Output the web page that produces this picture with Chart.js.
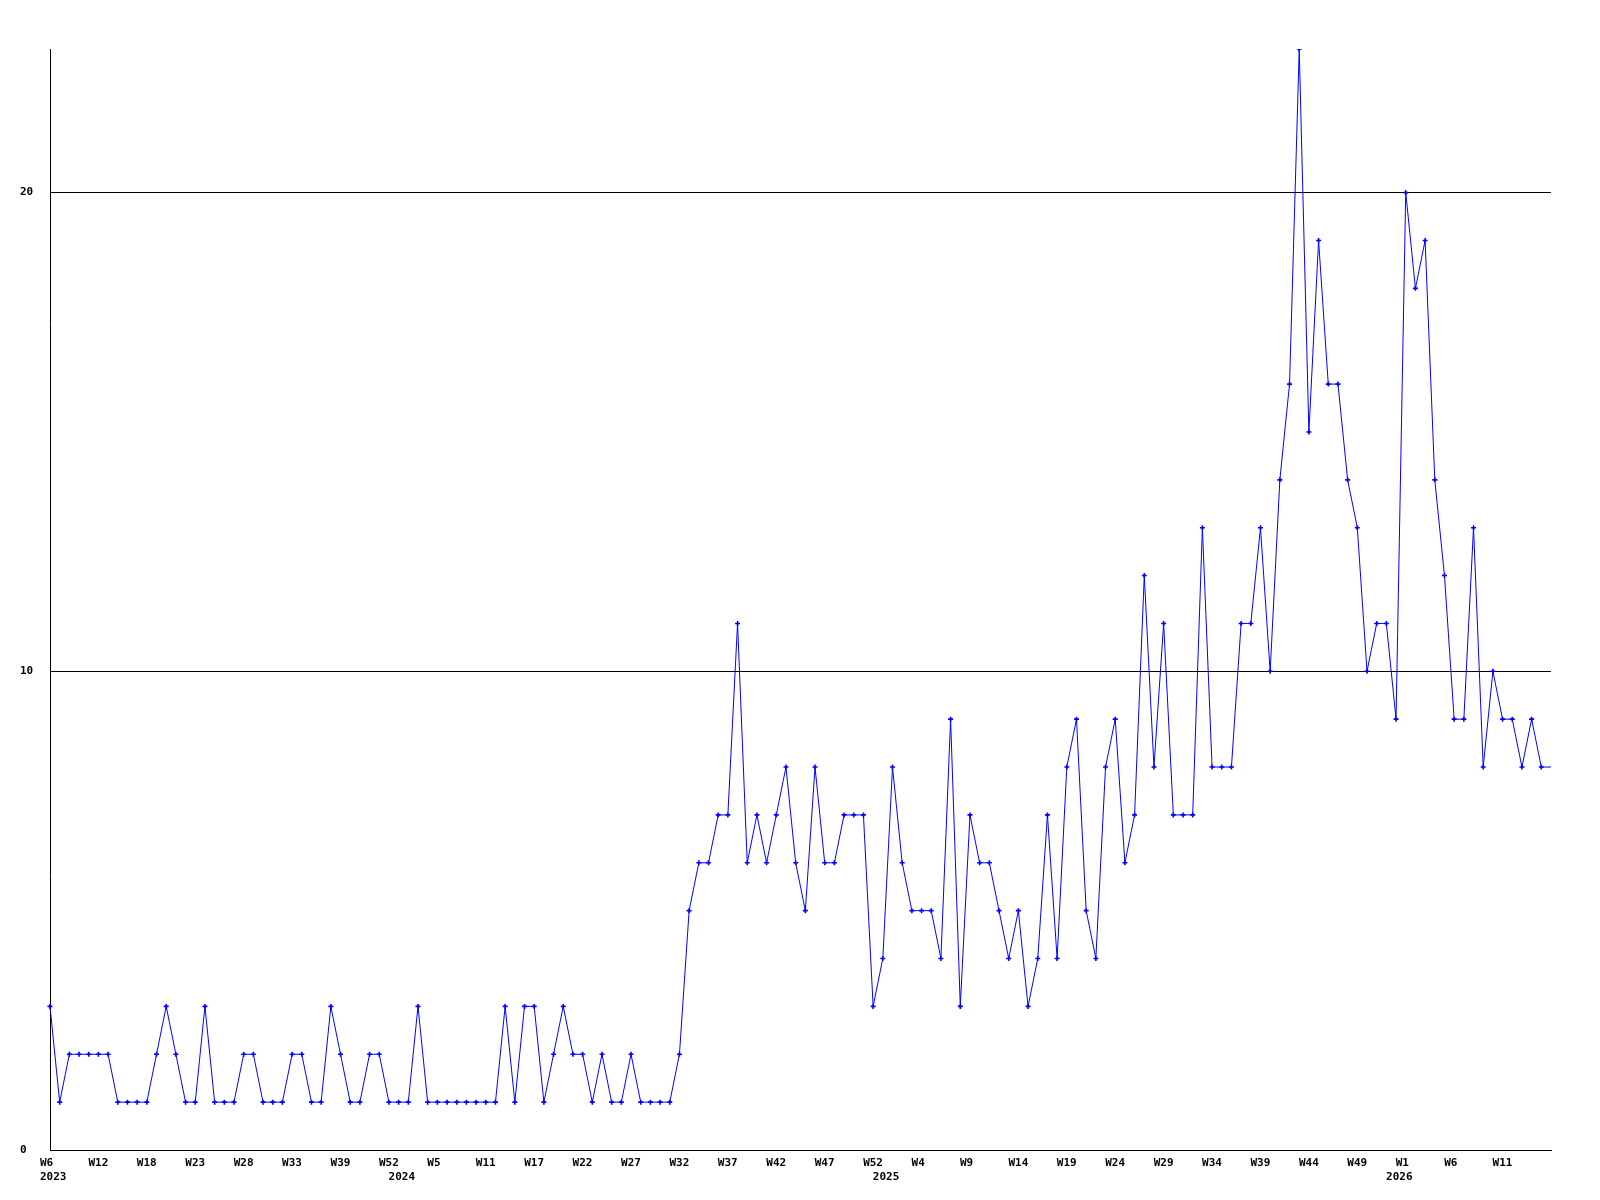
<!DOCTYPE html>
<html>
<head>
<meta charset="utf-8">
<script src="https://cdn.jsdelivr.net/npm/chart.js@4/dist/chart.umd.min.js"></script>
<style>
  html, body { margin: 0; padding: 0; background: #ffffff; }
  #wrap { width: 1600px; height: 1200px; }
</style>
</head>
<body>
<div id="wrap"><canvas id="c" width="1600" height="1200"></canvas></div>
<script>
// Weekly counts, one per point (last point is the open week, drawn without a marker)
const counts = [
  3,1,2,2,2,2,2,1,1,1, 1,2,3,2,1,1,3,1,1,1,
  2,2,1,1,1,2,2,1,1,3, 2,1,1,2,2,1,1,1,3,1,
  1,1,1,1,1,1,1,3,1,3, 3,1,2,3,2,2,1,2,1,1,
  2,1,1,1,1,2,5,6,6,7, 7,11,6,7,6,7,8,6,5,8,
  6,6,7,7,7,3,4,8,6,5, 5,5,4,9,3,7,6,6,5,4,
  5,3,4,7,4,8,9,5,4,8, 9,6,7,12,8,11,7,7,7,13,
  8,8,8,11,11,13,10,14,16,23, 15,19,16,16,14,13,10,11,11,9,
  20,18,19,14,12,9,9,13,8,10, 9,9,8,9,8,8
];

// Week tick labels, shown on every 5th point
const weekTicks = [
  "W6","W12","W18","W23","W28","W33","W39","W52",
  "W5","W11","W17","W22","W27","W32","W37","W42","W47","W52",
  "W4","W9","W14","W19","W24","W29","W34","W39","W44","W49",
  "W1","W6","W11"
];
const weekTickEvery = 5;

// Year labels and the point each one sits under
const yearNames  = ["2023", "2024", "2025", "2026"];
const yearPoints = [0, 36, 86, 139];

// Y axis
const yMin = 0, yMax = 23, yStep = 10;

// ---- build category labels from the arrays above ----
const categories = counts.map((_, i) => {
  const w = (i % weekTickEvery === 0) ? (weekTicks[i / weekTickEvery] || "") : "";
  const yi = yearPoints.indexOf(i);
  return yi >= 0 ? [w, yearNames[yi]] : w;
});

const tickFont = { family: "'DejaVu Sans Mono', monospace", size: 11, weight: "bold", lineHeight: "14px" };
const lastIdx = counts.length - 1;

new Chart(document.getElementById("c"), {
  type: "line",
  data: {
    labels: categories,
    datasets: [{
      data: counts,
      borderColor: "#0000ff",
      backgroundColor: "#0000ff",
      borderWidth: 1,
      tension: 0,
      fill: false,
      pointStyle: "cross",
      pointRadius: ctx => ctx.dataIndex === lastIdx ? 0 : 2.5,
      pointBorderWidth: 1.6,
      pointBorderColor: "#0000ff",
      pointHoverRadius: 0
    }]
  },
  options: {
    responsive: false,
    devicePixelRatio: 1,
    animation: false,
    events: [],
    layout: { padding: { left: 20, top: 49, right: 49, bottom: 0 } },
    plugins: { legend: { display: false }, tooltip: { enabled: false }, title: { display: false } },
    scales: {
      x: {
        type: "category",
        offset: false,
        grid: { display: false, drawTicks: false },
        border: { display: true, color: "#000000", width: 1 },
        ticks: {
          autoSkip: false,
          maxRotation: 0,
          minRotation: 0,
          align: "start",
          labelOffset: -10,
          padding: 6,
          color: "#000000",
          font: tickFont,
          callback: function (v, i) { return categories[i]; }
        },
        afterFit: s => { s.height = 50; }
      },
      y: {
        type: "linear",
        min: yMin,
        max: yMax,
        grid: { display: true, color: "#000000", lineWidth: 1, drawTicks: false },
        border: { display: true, color: "#000000", width: 1 },
        ticks: {
          stepSize: yStep,
          crossAlign: "far",
          padding: 4,
          color: "#000000",
          font: tickFont
        },
        afterBuildTicks: s => { s.ticks = s.ticks.filter(t => t.value % yStep === 0); },
        afterFit: s => { s.width = 30; }
      }
    }
  }
});
</script>
</body>
</html>
